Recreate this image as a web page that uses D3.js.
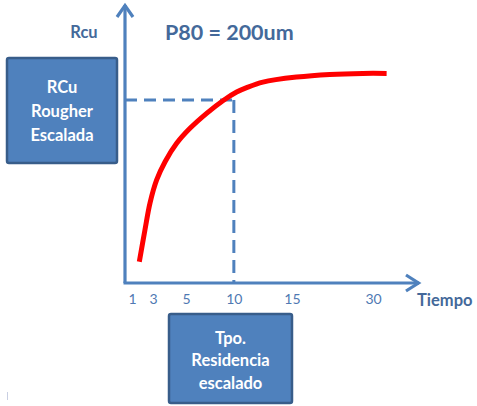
<!DOCTYPE html>
<html>
<head>
<meta charset="utf-8">
<script src="https://cdn.jsdelivr.net/npm/d3@7"></script>
<style>
  html, body { margin: 0; padding: 0; background: #fff; }
  svg { display: block; font-family: Lato, "Open Sans", sans-serif; }
</style>
</head>
<body>
<svg id="chart" width="477" height="406"></svg>
<script>
// Tiempo tick labels along the horizontal axis
const timeTicks = [1, 3, 5, 10, 15, 30];
// Recovery curve: residence time vs. copper recovery (arbitrary units)
const curveTime = [1.69, 2.23, 2.71, 3.22, 3.73, 4.43, 5.41, 7.15, 8.89, 10.24, 11.1, 12.5, 15.87, 22.0, 28.1, 32.5];
const curveRcu  = [8.1, 20.2, 30.4, 39.2, 46.1, 53.1, 58.8, 64.5, 69.4, 72.6, 74.3, 76.4, 78.3, 79.3, 79.7, 79.7];
// Scaled operating point
const scaledTime = 10;
const scaledRcu = 69.6;
const titleText = "P80 = 200um";
const yAxisLabel = "Rcu";
const xAxisLabel = "Tiempo";
const rcuBoxLines = ["RCu", "Rougher", "Escalada"];
const timeBoxLines = ["Tpo.", "Residencia", "escalado"];

const svg = d3.select("#chart");
const axisColor = "#4f81bd";
const textColor = "#44699a";

const origin = { x: 125, y: 283 };

// Schematic time axis: tick spacing is not uniform, so map piecewise
const tickFrac = [0.024, 0.095, 0.207, 0.369, 0.566, 0.841];
const x = d3.scaleLinear()
  .domain(timeTicks)
  .range(tickFrac.map(f => origin.x + f * 295));

const y = d3.scaleLinear()
  .domain([0, 100])
  .range([origin.y, 20]);

// Axes with open chevron arrowheads
const axes = svg.append("g")
  .attr("stroke", axisColor)
  .attr("stroke-width", 3.2)
  .attr("fill", "none")
  .attr("stroke-linecap", "butt");

axes.append("path").attr("d", `M${origin.x},${origin.y} V5`);
axes.append("path").attr("d", `M${origin.x - 8},17 L${origin.x},5.5 L${origin.x + 8},17`)
  .attr("stroke-linejoin", "miter");
axes.append("path").attr("d", `M${origin.x - 1.5},${origin.y} H419`);
axes.append("path").attr("d", `M406,${origin.y - 8} L418.5,${origin.y} L406,${origin.y + 8}`)
  .attr("stroke-linejoin", "miter");

// Dashed guide lines to the scaled operating point
const guides = svg.append("g")
  .attr("stroke", axisColor)
  .attr("stroke-width", 3)
  .attr("stroke-dasharray", "12,7")
  .attr("fill", "none");
guides.append("path")
  .attr("d", `M${origin.x},${y(scaledRcu)} H${x(scaledTime) + 1.5}`);
guides.append("path")
  .attr("d", `M${x(scaledTime)},${y(scaledRcu)} V${origin.y}`)
  .attr("stroke-dasharray", "13,7");

// Recovery curve
const curveData = curveTime.map((t, i) => ({ t, r: curveRcu[i] }));
svg.append("path")
  .datum(curveData)
  .attr("fill", "none")
  .attr("stroke", "#ff0000")
  .attr("stroke-width", 5)
  .attr("stroke-linecap", "butt")
  .attr("d", d3.line().x(d => x(d.t)).y(d => y(d.r)).curve(d3.curveCatmullRom.alpha(0.5)));

// Tick labels
const xAxis = d3.axisBottom(x)
  .tickValues(timeTicks)
  .tickSize(0)
  .tickPadding(0)
  .tickFormat(d3.format("d"));
const gx = svg.append("g")
  .attr("transform", `translate(0,${origin.y + 11})`)
  .call(xAxis);
gx.select(".domain").remove();
gx.selectAll("text")
  .attr("fill", "#5079b3")
  .attr("font-size", 14)
  .attr("font-family", "Lato, sans-serif")
  .attr("dy", "0.71em");

// Axis titles and header
svg.append("text")
  .attr("x", 417).attr("y", 306)
  .attr("fill", textColor)
  .attr("font-size", 16.5).attr("font-weight", 700)
  .text(xAxisLabel);
svg.append("text")
  .attr("x", 84).attr("y", 38)
  .attr("text-anchor", "middle")
  .attr("fill", textColor)
  .attr("font-size", 16.5).attr("font-weight", 700)
  .text(yAxisLabel);
svg.append("text")
  .attr("x", 165).attr("y", 40)
  .attr("fill", textColor)
  .attr("font-size", 21.5).attr("font-weight", 700)
  .text(titleText);

// Annotation boxes
function box(x0, y0, w, h, lines, firstY, step) {
  const g = svg.append("g");
  g.append("rect")
    .attr("x", x0).attr("y", y0).attr("width", w).attr("height", h)
    .attr("rx", 2)
    .attr("fill", "#4f81bd")
    .attr("stroke", "#385d8a")
    .attr("stroke-width", 2.5);
  g.selectAll("text.line")
    .data(lines)
    .join("text")
    .attr("class", "line")
    .attr("x", x0 + w / 2)
    .attr("y", (d, i) => firstY + i * step)
    .attr("text-anchor", "middle")
    .attr("dy", "0.35em")
    .attr("fill", "#ffffff")
    .attr("font-size", 16.5)
    .attr("font-weight", 700)
    .text(d => d);
}
box(7, 58, 110, 105, rcuBoxLines, 87, 24);
box(169, 314, 123, 89, timeBoxLines, 338, 22.5);

// Small mark near the bottom-left corner
svg.append("line")
  .attr("x1", 7.5).attr("x2", 7.5)
  .attr("y1", 392).attr("y2", 400)
  .attr("stroke", "#c9cfe2").attr("stroke-width", 1);
</script>
</body>
</html>
